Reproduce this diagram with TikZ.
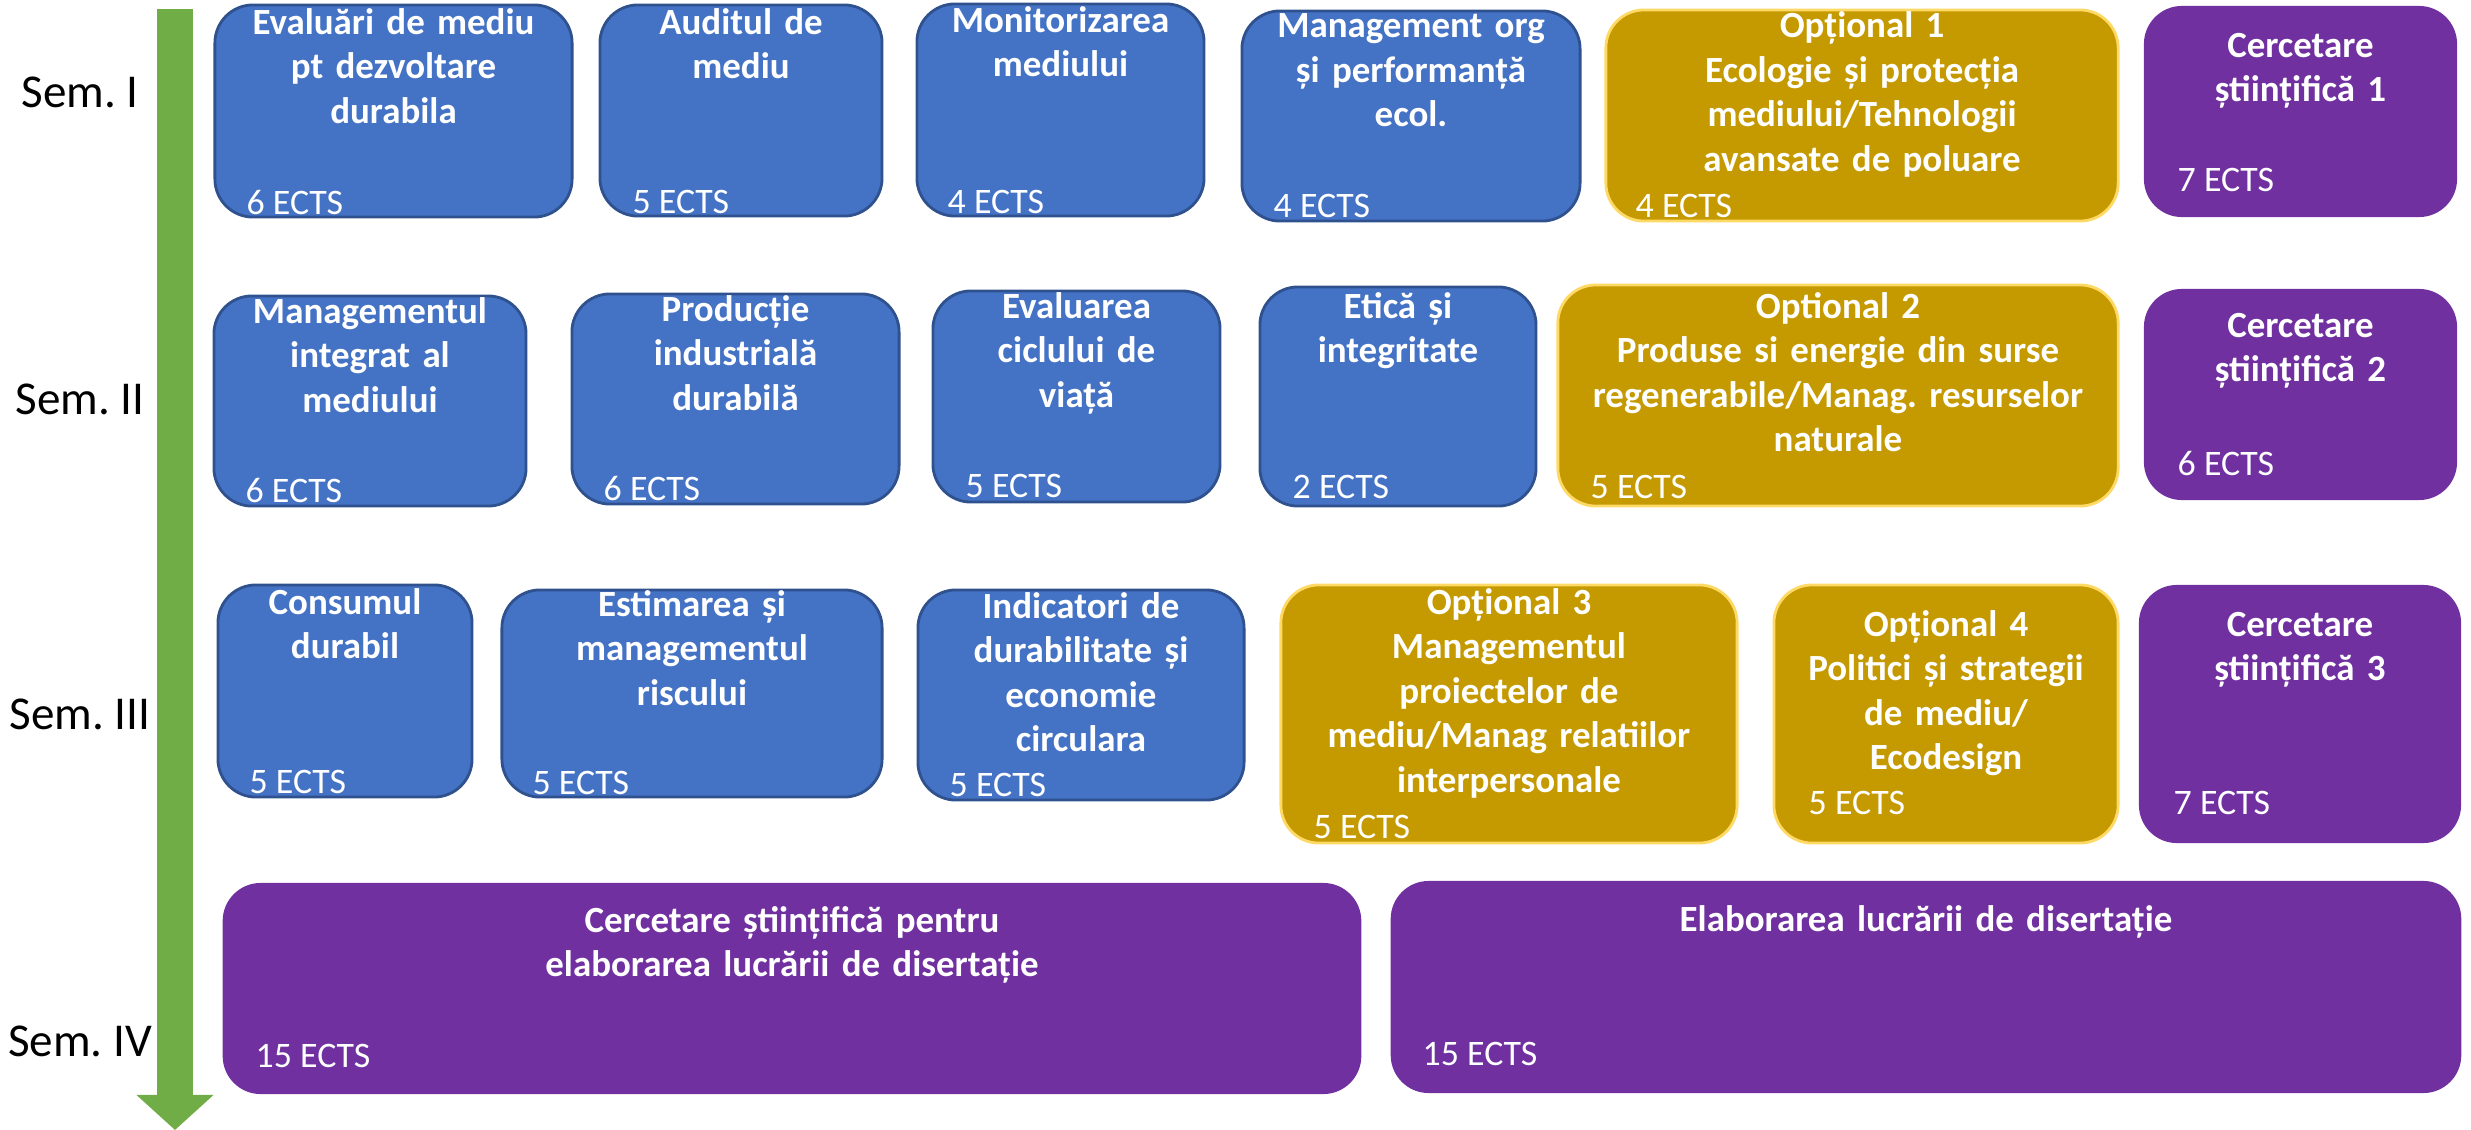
\documentclass[tikz,border=0pt]{standalone}
\usepackage{fontspec}
\setmainfont{Carlito}
\usepackage{tikz}
\usetikzlibrary{arrows.meta}
\frenchspacing

\definecolor{albastru}{HTML}{4472C4}
\definecolor{albastruinchis}{HTML}{2F528F}
\definecolor{auriu}{HTML}{C49A00}
\definecolor{galben}{HTML}{FFD966}
\definecolor{mov}{HTML}{7030A0}
\definecolor{verde}{HTML}{70AD47}

\tikzset{
  box/.style={rectangle, rounded corners=0.38cm, inner sep=0pt},
  blubox/.style={box, fill=albastru, draw=albastruinchis, line width=0.8pt},
  goldbox/.style={box, fill=auriu, draw=galben, line width=0.8pt},
  movbox/.style={box, fill=mov},
  titlu/.style={anchor=base, inner sep=0pt, text width=6cm, align=center, text=white,
    font=\bfseries\fontsize{10.5}{12.7}\selectfont},
  ects/.style={anchor=base west, inner sep=0pt, text=white, font=\fontsize{10.2}{12}\selectfont},
  sem/.style={anchor=base, inner sep=0pt, font=\fontsize{13.4}{16}\selectfont}
}

\begin{document}
\begin{tikzpicture}[x=0.01cm, y=-0.01cm]
\useasboundingbox (0,0) rectangle (2471,1130);

% axa timpului
\coordinate (start) at (175,9);
\coordinate (stop) at (175,1130);
\draw[verde, line width=0.36cm, -{Triangle[length=0.35cm, width=0.75cm]}] (start) -- (stop);

\node[sem] (s1) at (80,107) {Sem. I};
\node[sem] (s2) at (80,414) {Sem. II};
\node[sem] (s3) at (80,729) {Sem. III};
\node[sem] (s4) at (80,1056) {Sem. IV};

% semestrul I
\node[blubox, minimum width=3.57cm, minimum height=2.12cm] (b11) at (393.5,111) {};
\node[blubox, minimum width=2.82cm, minimum height=2.11cm] (b12) at (741,110.5) {};
\node[blubox, minimum width=2.87cm, minimum height=2.12cm] (b13) at (1060.5,110) {};
\node[blubox, minimum width=3.38cm, minimum height=2.10cm] (b14) at (1411,116) {};
\node[goldbox, minimum width=5.12cm, minimum height=2.11cm] (o1) at (1862,115.5) {};
\node[movbox, minimum width=3.13cm, minimum height=2.11cm] (c1) at (2300.5,111.5) {};

\node[titlu] (t11) at (393.5,34) {Evaluări de mediu\\pt dezvoltare\\durabila};
\node[titlu] (t12) at (741,34) {Auditul de\\mediu};
\node[titlu] (t13) at (1060.5,32) {Monitorizarea\\mediului};
\node[titlu] (t14) at (1411,37.5) {Management org\\și performanță\\ecol.};
\node[titlu] (to1) at (1862,37.5) {Opțional 1\\Ecologie și protecția\\mediului/Tehnologii\\avansate de poluare};
\node[titlu] (tc1) at (2300.5,57) {Cercetare\\științifică 1};

\node[ects] (e11) at (246,214) {6 ECTS};
\node[ects] (e12) at (632,213) {5 ECTS};
\node[ects] (e13) at (947,213) {4 ECTS};
\node[ects] (e14) at (1273,217) {4 ECTS};
\node[ects] (eo1) at (1635,217) {4 ECTS};
\node[ects] (ec1) at (2177,191) {7 ECTS};

% semestrul II
\node[blubox, minimum width=3.12cm, minimum height=2.10cm] (b21) at (370,401) {};
\node[blubox, minimum width=3.27cm, minimum height=2.10cm] (b22) at (735.5,399) {};
\node[blubox, minimum width=2.87cm, minimum height=2.11cm] (b23) at (1076.5,396.5) {};
\node[blubox, minimum width=2.76cm, minimum height=2.19cm] (b24) at (1398,396.5) {};
\node[goldbox, minimum width=5.60cm, minimum height=2.21cm] (o2) at (1838,395.5) {};
\node[movbox, minimum width=3.13cm, minimum height=2.11cm] (c2) at (2300.5,394.5) {};

\node[titlu] (t21) at (370,323) {Managementul\\integrat al\\mediului};
\node[titlu] (t22) at (735.5,321) {Producție\\industrială\\durabilă};
\node[titlu] (t23) at (1076.5,318) {Evaluarea\\ciclului de\\viață};
\node[titlu] (t24) at (1398,318) {Etică și\\integritate};
\node[titlu] (to2) at (1838,318) {Optional 2\\Produse si energie din surse\\regenerabile/Manag. resurselor\\naturale};
\node[titlu] (tc2) at (2300.5,337) {Cercetare\\științifică 2};

\node[ects] (e21) at (245,502) {6 ECTS};
\node[ects] (e22) at (603,500) {6 ECTS};
\node[ects] (e23) at (965,497) {5 ECTS};
\node[ects] (e24) at (1292,498) {2 ECTS};
\node[ects] (eo2) at (1590,498) {5 ECTS};
\node[ects] (ec2) at (2177,475) {6 ECTS};

% semestrul III
\node[blubox, minimum width=2.54cm, minimum height=2.12cm] (b31) at (345,691) {};
\node[blubox, minimum width=3.80cm, minimum height=2.07cm] (b32) at (692,693.5) {};
\node[blubox, minimum width=3.26cm, minimum height=2.10cm] (b33) at (1081,695) {};
\node[goldbox, minimum width=4.56cm, minimum height=2.58cm] (o3) at (1509,714) {};
\node[goldbox, minimum width=3.44cm, minimum height=2.58cm] (o4) at (1946,714) {};
\node[movbox, minimum width=3.22cm, minimum height=2.58cm] (c3) at (2300,714) {};

\node[titlu] (t31) at (345,614) {Consumul\\durabil};
\node[titlu] (t32) at (692,616) {Estimarea și\\managementul\\riscului};
\node[titlu] (t33) at (1081,618) {Indicatori de\\durabilitate și\\economie\\circulara};
\node[titlu] (to3) at (1509,614) {Opțional 3\\Managementul\\proiectelor de\\mediu/Manag relatiilor\\interpersonale};
\node[titlu] (to4) at (1946,636) {Opțional 4\\Politici și strategii\\de mediu/\\Ecodesign};
\node[titlu] (tc3) at (2300,636) {Cercetare\\științifică 3};

\node[ects] (e31) at (249,793) {5 ECTS};
\node[ects] (e32) at (532,794) {5 ECTS};
\node[ects] (e33) at (949,796) {5 ECTS};
\node[ects] (eo3) at (1313,838) {5 ECTS};
\node[ects] (eo4) at (1808,814) {5 ECTS};
\node[ects] (ec3) at (2173,814) {7 ECTS};

% semestrul IV
\node[movbox, minimum width=11.38cm, minimum height=2.11cm] (d1) at (792,988.5) {};
\node[movbox, minimum width=10.70cm, minimum height=2.12cm] (d2) at (1926,987) {};

\node[titlu] (td1) at (792,932) {Cercetare științifică pentru\\elaborarea lucrării de disertație};
\node[titlu] (td2) at (1926,931) {Elaborarea lucrării de disertație};

\node[ects] (ed1) at (255,1067) {15 ECTS};
\node[ects] (ed2) at (1422,1065) {15 ECTS};
\end{tikzpicture}
\end{document}
